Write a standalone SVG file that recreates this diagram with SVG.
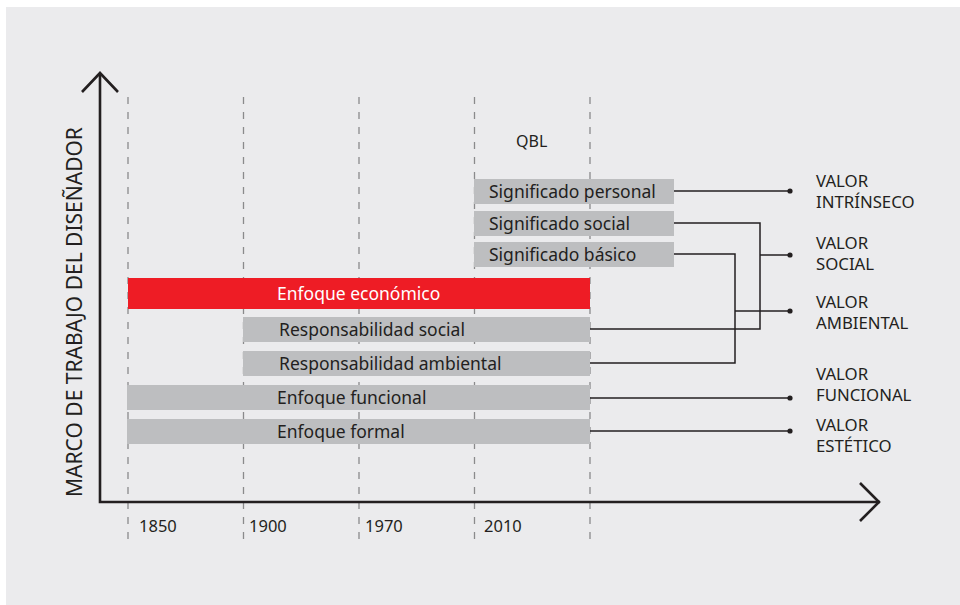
<svg xmlns="http://www.w3.org/2000/svg" width="960" height="605" viewBox="0 0 960 605">
<style>
text{font-family:"Noto Sans","Liberation Sans",sans-serif;fill:#231f20}
.bar{fill:#bdbec0}
.lbl{font-size:17.5px}
.yr{font-size:16.5px}
.val{font-size:16.8px}
.grid{stroke:#8a8a8c;stroke-width:1.3;stroke-dasharray:7 8;fill:none}
.axis{stroke:#231f20;stroke-width:2.6;fill:none}
.con{stroke:#231f20;stroke-width:1.5;fill:none}
.dot{fill:#231f20}
</style>
<rect x="0" y="0" width="960" height="605" fill="#ffffff"/>
<rect x="6" y="7" width="954" height="598" fill="#ebebed"/>
<g id="grid">
<line class="grid" x1="128" y1="97" x2="128" y2="545"/>
<line class="grid" x1="243.5" y1="97" x2="243.5" y2="545"/>
<line class="grid" x1="359" y1="97" x2="359" y2="545"/>
<line class="grid" x1="474.5" y1="97" x2="474.5" y2="545"/>
<line class="grid" x1="590" y1="97" x2="590" y2="545"/>
</g>
<g id="axes">
<polyline class="axis" points="100,73 100,502 880,502"/>
<polyline class="axis" points="82,92 100,73 118,92"/>
<polyline class="axis" points="860,483 879,502 860,521"/>
<text transform="translate(82,312) rotate(-90)" text-anchor="middle" font-size="21">MARCO DE TRABAJO DEL DISEÑADOR</text>
</g>
<g id="years">
<text class="yr" x="139" y="532">1850</text>
<text class="yr" x="249" y="532">1900</text>
<text class="yr" x="365" y="532">1970</text>
<text class="yr" x="484" y="532">2010</text>
</g>
<text id="qbl" x="516" y="147" font-size="16">QBL</text>
<g id="bar-economico"><rect x="128" y="278" width="462" height="31" fill="#ee1c25"/><text class="lbl" x="277" y="299.5" style="fill:#ffffff">Enfoque económico</text></g>
<g id="bar-resp-social"><rect class="bar" x="243" y="317" width="347" height="25"/><text class="lbl" x="279" y="335.5">Responsabilidad social</text></g>
<g id="bar-resp-ambiental"><rect class="bar" x="243" y="351" width="347" height="25"/><text class="lbl" x="279" y="369.5">Responsabilidad ambiental</text></g>
<g id="bar-funcional"><rect class="bar" x="127" y="385" width="463" height="25"/><text class="lbl" x="277" y="403.5">Enfoque funcional</text></g>
<g id="bar-formal"><rect class="bar" x="127" y="419" width="463" height="25"/><text class="lbl" x="277" y="437.5">Enfoque formal</text></g>
<g id="bar-sig-personal"><rect class="bar" x="474" y="179" width="200" height="25"/><text class="lbl" x="489" y="197.5">Significado personal</text></g>
<g id="bar-sig-social"><rect class="bar" x="474" y="211" width="200" height="25"/><text class="lbl" x="489" y="229.5">Significado social</text></g>
<g id="bar-sig-basico"><rect class="bar" x="474" y="242" width="200" height="25"/><text class="lbl" x="489" y="260.5">Significado básico</text></g>
<g id="connectors">
<polyline class="con" points="674,191 790,191"/>
<polyline class="con" points="674,223 760,223 760,329 590,329"/>
<polyline class="con" points="760,255 790,255"/>
<polyline class="con" points="674,254 735,254 735,363 590,363"/>
<polyline class="con" points="735,311 790,311"/>
<polyline class="con" points="590,398 790,398"/>
<polyline class="con" points="590,431 790,431"/>
<circle class="dot" cx="790" cy="191" r="2.6"/>
<circle class="dot" cx="790" cy="255" r="2.6"/>
<circle class="dot" cx="790" cy="311" r="2.6"/>
<circle class="dot" cx="790" cy="398" r="2.6"/>
<circle class="dot" cx="790" cy="431" r="2.6"/>
</g>
<g id="val-intrinseco"><text class="val" x="816" y="187">VALOR</text><text class="val" x="816" y="208">INTRÍNSECO</text></g>
<g id="val-social"><text class="val" x="816" y="249">VALOR</text><text class="val" x="816" y="270">SOCIAL</text></g>
<g id="val-ambiental"><text class="val" x="816" y="308">VALOR</text><text class="val" x="816" y="329">AMBIENTAL</text></g>
<g id="val-funcional"><text class="val" x="816" y="380">VALOR</text><text class="val" x="816" y="401">FUNCIONAL</text></g>
<g id="val-estetico"><text class="val" x="816" y="431">VALOR</text><text class="val" x="816" y="452">ESTÉTICO</text></g>
</svg>
